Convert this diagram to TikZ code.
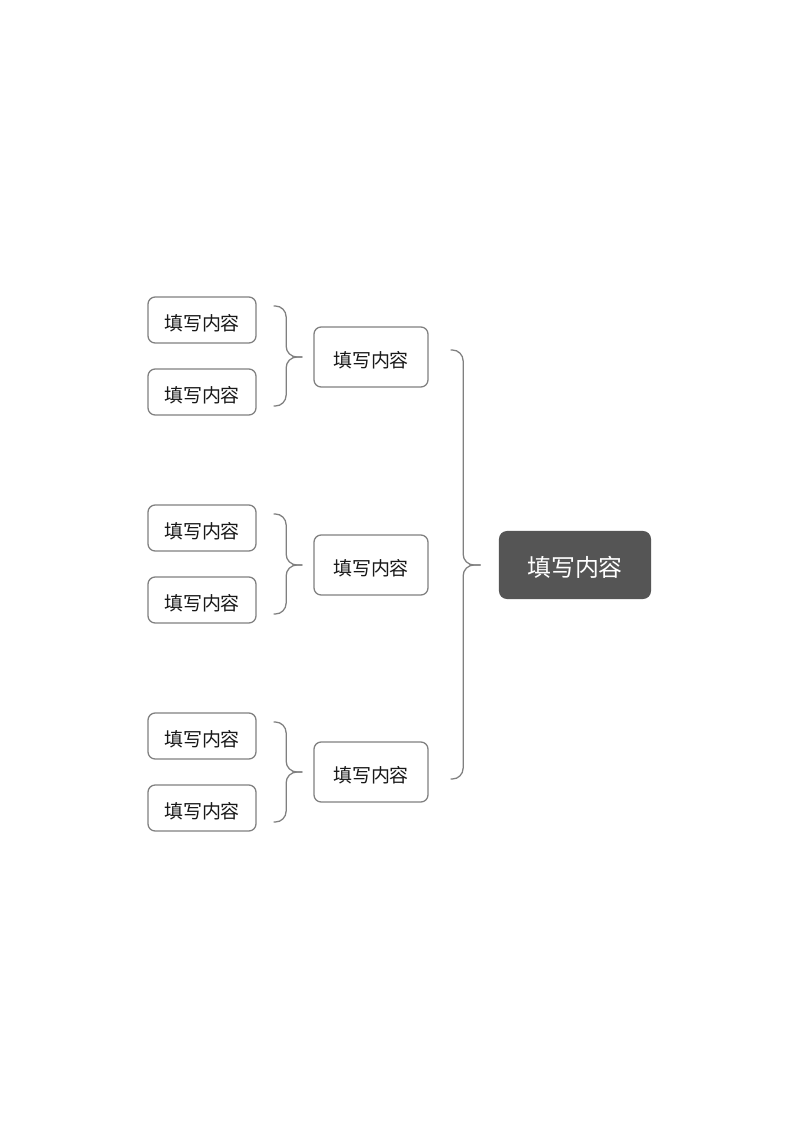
\documentclass[tikz,border=0pt]{standalone}
\usepackage{fontspec}
\setmainfont{Noto Sans CJK SC}
\usepackage{tikz}
\usetikzlibrary{calc}
\definecolor{linegray}{HTML}{808080}
\definecolor{rootgray}{HTML}{555555}
\def\bracket(#1)(#2)(#3)(#4:#5:#6){%
  \draw[bracket] ($(#1.east)+(#4,-#5)$) -- ++(12.5,0) |- ($(#3.west)+(-#6,0)$);
  \draw[bracket] ($(#2.east)+(#4,#5)$) -- ++(12.5,0) |- ($(#3.west)+(-#6,0)$);}

\begin{document}
\begin{tikzpicture}[x=0.025cm, y=-0.025cm,
    leaf/.style={draw=linegray, line width=0.9pt, rounded corners=0.18cm, fill=white,
      minimum width=2.7cm, minimum height=1.15cm, inner sep=0pt,
      text height=14.6pt, text depth=0pt,
      font=\fontsize{13.5}{16}\selectfont, text=black!90},
    branch/.style={leaf, minimum width=2.85cm, minimum height=1.5cm},
    root/.style={fill=rootgray, rounded corners=0.2cm, minimum width=3.8cm,
      minimum height=1.7cm, inner sep=0pt, text height=16.5pt, text depth=0pt,
      font=\fontsize{17}{20}\selectfont, text=white},
    bracket/.style={draw=linegray, line width=0.9pt, rounded corners=0.27cm}]
			%%%%% START %%%%%
			\useasboundingbox[fill=white] (0, 0) rectangle (800, 1131);
			
			\node[root] (center) at (575, 565) {填写内容};
			
			\node[branch] (top) at (371, 357) {填写内容};
			\node[branch] (mid) at (371, 565) {填写内容};
			\node[branch] (bot) at (371, 772) {填写内容};
			
			\node[leaf] (top a) at (202, 320) {填写内容};
			\node[leaf] (top b) at (202, 392) {填写内容};
			\node[leaf] (mid a) at (202, 528) {填写内容};
			\node[leaf] (mid b) at (202, 600) {填写内容};
			\node[leaf] (bot a) at (202, 736) {填写内容};
			\node[leaf] (bot b) at (202, 808) {填写内容};
			
			\bracket(top a)(top b)(top)(17:14:11)
			\bracket(mid a)(mid b)(mid)(17:14:11)
			\bracket(bot a)(bot b)(bot)(17:14:11)
			
			\bracket(top)(bot)(center)(22:7:18)
			%%%%% END %%%%%
\end{tikzpicture}
\end{document}
